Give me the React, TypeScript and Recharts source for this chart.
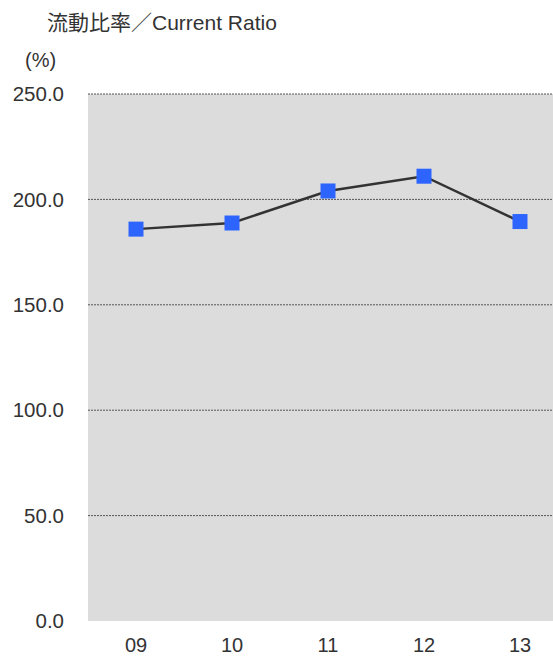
import { CartesianGrid, Line, LineChart, XAxis, YAxis } from "recharts"

const years = ["09", "10", "11", "12", "13"]
const currentRatio = [185.9, 188.8, 204.0, 211.0, 189.5]
const yTicks = [0, 50, 100, 150, 200, 250]
const gridValues = [50, 100, 150, 200, 250]
const boundaryTicks = [1, 2, 3, 4]

const data = years.map((year, i) => ({ year, ratio: currentRatio[i], pos: i + 0.5 }))

const font = "'Liberation Sans', Arial, sans-serif"

function SquareDot(props: any) {
  const { cx, cy, index } = props
  if (cx == null || cy == null) return null
  return <rect key={`dot-${index}`} x={cx - 7.5} y={cy - 7.5} width={15} height={15} fill="#2E64FE" />
}

export default function App() {
  return (
    <div
      style={{
        position: "absolute",
        left: 0,
        top: 0,
        width: 553,
        height: 656,
        overflow: "hidden",
        background: "#fff",
        fontFamily: font,
      }}
    >
      <div
        style={{
          position: "absolute",
          left: 47,
          top: 12,
          fontSize: 21,
          lineHeight: 1,
          color: "#333",
          fontFamily: "'Liberation Sans', Arial, 'Noto Sans CJK JP', sans-serif",
          whiteSpace: "nowrap",
        }}
      >
        流動比率／Current Ratio
      </div>
      <div style={{ position: "absolute", left: 25, top: 50, fontSize: 20, lineHeight: 1, color: "#333" }}>(%)</div>
      <LineChart
        width={600}
        height={656}
        data={data}
        margin={{ top: 94, right: 32, left: 0, bottom: 5 }}
        style={{ position: "absolute", left: 0, top: 0 }}
      >
        <CartesianGrid
          vertical={false}
          horizontalValues={gridValues}
          fill="#DCDCDC"
          fillOpacity={1}
          stroke="#555"
          strokeDasharray="2 1"
        />
        <XAxis
          dataKey="year"
          scale="band"
          axisLine={false}
          tickLine={false}
          tickSize={0}
          tickMargin={17}
          height={30}
          tick={{ fill: "#333", fontSize: 20, fontFamily: font }}
        />
        <XAxis
          xAxisId="bounds"
          dataKey="pos"
          type="number"
          domain={[0, 5]}
          ticks={boundaryTicks}
          mirror
          axisLine={false}
          tickSize={6}
          tickLine={{ stroke: "#f4f4f4", strokeWidth: 1 }}
          tickFormatter={() => ""}
          height={0}
        />
        <YAxis
          domain={[0, 250]}
          ticks={yTicks}
          axisLine={false}
          tickLine={false}
          tickSize={0}
          tickMargin={24}
          width={88}
          tickFormatter={(v: number) => v.toFixed(1)}
          tick={{ fill: "#333", fontSize: 20.5, fontFamily: font }}
        />
        <Line
          type="linear"
          dataKey="ratio"
          stroke="#333"
          strokeWidth={2.5}
          dot={SquareDot}
          activeDot={false}
          isAnimationActive={false}
        />
      </LineChart>
    </div>
  )
}
